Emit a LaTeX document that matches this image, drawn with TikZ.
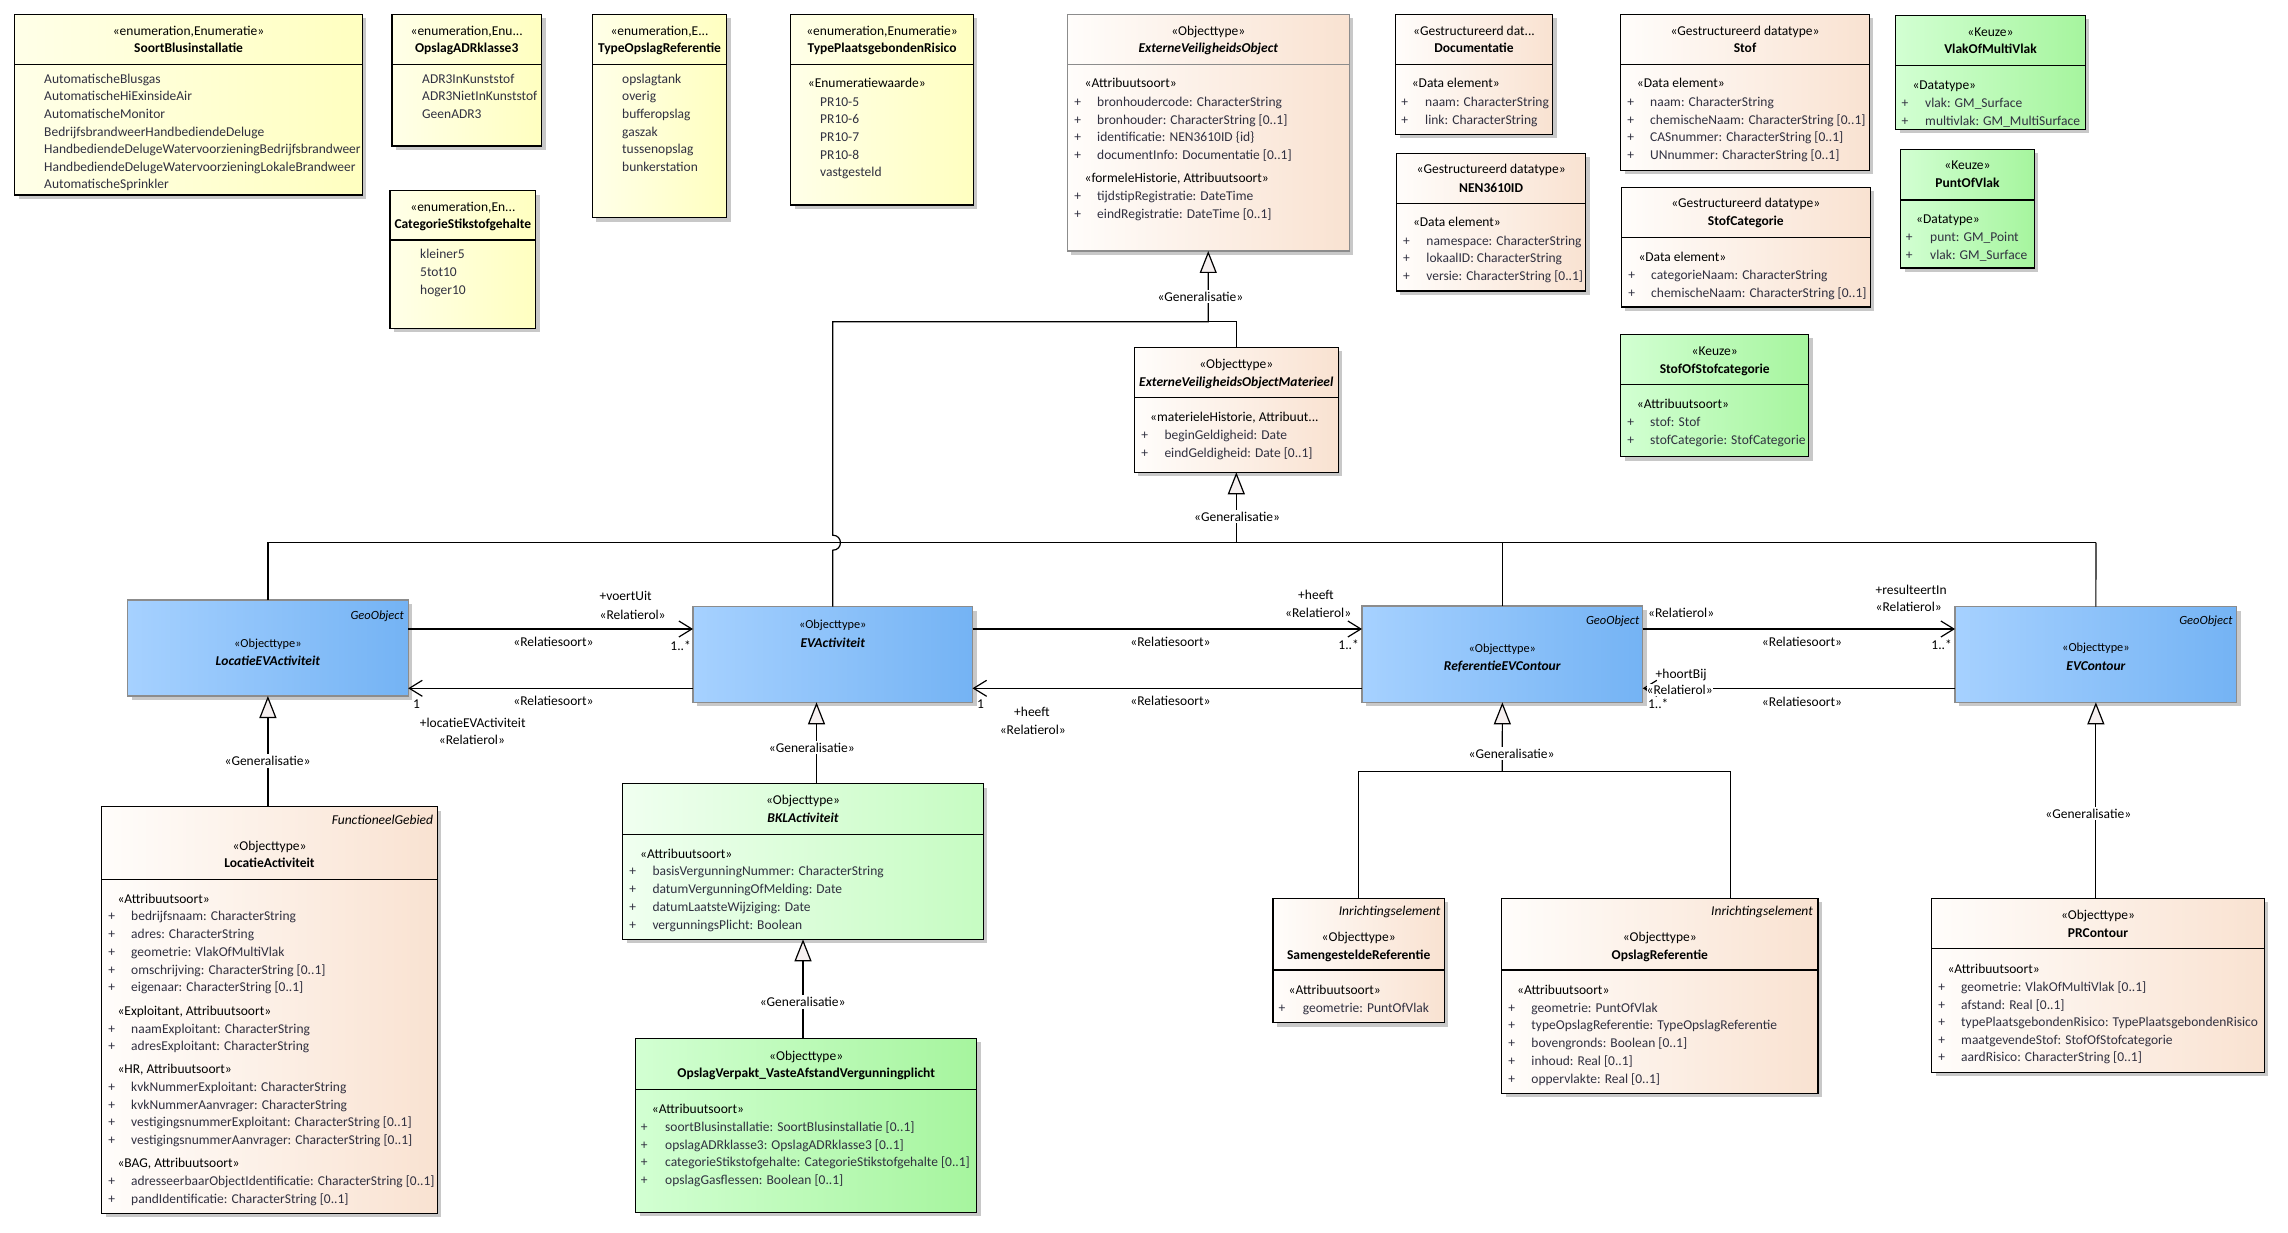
\documentclass[tikz,border=0pt]{standalone}
\usepackage{fontspec}
\setmainfont{Carlito}
\usepackage{graphicx}
\usetikzlibrary{arrows.meta,shadows,fit}

\definecolor{yl}{HTML}{FFFFE8}
\definecolor{yr}{HTML}{FFFFC0}
\definecolor{bl}{HTML}{FFFDFB}
\definecolor{br}{HTML}{F9E2D1}
\definecolor{gl}{HTML}{D2FFD2}
\definecolor{gr}{HTML}{A6F59E}
\definecolor{lgl}{HTML}{F0FFF0}
\definecolor{lgr}{HTML}{C6FCC2}
\definecolor{bul}{HTML}{A6D1FF}
\definecolor{bur}{HTML}{74B3F4}
\definecolor{attc}{HTML}{303040}
\definecolor{shc}{HTML}{C8C8C8}
\definecolor{trif}{HTML}{F6F0F0}

\newcounter{tn}
\newsavebox\sqbox
\newdimen\sqlen
\newcommand\sqz[2]{\sbox\sqbox{#2}\sqlen=\wd\sqbox\relax\ifdim\sqlen>#1\relax\edef\sqf{\fpeval{(#1)/\sqlen}}\scalebox{\sqf}[1]{\usebox\sqbox}\else\usebox\sqbox\fi}
\newcommand\fn{\fontsize{13.5}{16}\selectfont}
\newcommand\fs{\fontsize{12.3}{14}\selectfont}
\newcommand\fgeo{\fontsize{12.5}{15}\selectfont\itshape}

% box: name, style, x1, y1, x2, y2, sep y, sep colour
\newcommand\bx[8]{\node[#2, fit={(#3,#4)(#5,#6)}] (#1) {};
  \draw[line width=1.1pt,#8] (#3,#7) -- (#5,#7);}
% header text: cx, y, font, text, max width
\newcommand\hd[5]{\stepcounter{tn}\node[hdtxt,font=#3] (h\arabic{tn}) at (#1,#2) {\sqz{#5pt}{#4}};}
% group title: x, y, text
\newcommand\grp[3]{\stepcounter{tn}\node[lt] (g\arabic{tn}) at (#1,#2) {#3};}
% literal: x, y, text, right edge
\newcommand\lit[4]{\stepcounter{tn}\node[lt,text=attc] (l\arabic{tn}) at (#1,#2) {\sqz{\fpeval{#4-#1-2}pt}{#3}};}
% attribute: plus x, text x, y, text, right edge
\newcommand\att[5]{\stepcounter{tn}\node[pl] (p\arabic{tn}) at (#1,#3) {+};
  \node[lt,text=attc] (a\arabic{tn}) at (#2,#3) {\sqz{\fpeval{#5-#2-3}pt}{#4}};}
% label: [opts] x, y, text
\newcommand\lab[4][]{\stepcounter{tn}\node[lt,#1] (c\arabic{tn}) at (#2,#3) {#4};}

\begin{document}
\begin{tikzpicture}[x=1pt,y=-1pt,
  every node/.style={font=\fn},
  box/.style={draw=black, line width=1.1pt, inner sep=0, outer sep=0,
    drop shadow={shadow xshift=4pt,shadow yshift=-4pt,fill=shc,opacity=1}},
  ybox/.style={box, left color=yl, right color=yr},
  bbox/.style={box, left color=bl, right color=br},
  gbox/.style={box, left color=gl, right color=gr},
  lgbox/.style={box, left color=lgl, right color=lgr},
  blbox/.style={box, draw=black!45, left color=bul, right color=bur},
  hdtxt/.style={anchor=base, yshift=-4.7pt, inner sep=0},
  lt/.style={anchor=base west, yshift=-4.7pt, inner sep=0},
  pl/.style={anchor=base, yshift=-4.7pt, inner sep=0, text=attc},
  conn/.style={line width=1.2pt},
  assoc/.style={line width=1.2pt, -{Straight Barb[length=13pt,width=16pt]}},
  gen/.style={line width=1.2pt, -{Triangle[length=22pt,width=17pt,fill=trif]}},
  genl/.style={anchor=base, fill=white, inner xsep=1pt, inner ysep=2pt},
]
\useasboundingbox[fill=white] (0,0) rectangle (2288,1233);

% ---------------- enumerations ----------------
\bx{sbi}{ybox}{14.5}{14.3}{362.4}{195}{64.3}{black}
\hd{188.5}{30.7}{\fn}{«enumeration,Enumeratie»}{340}
\hd{188.5}{48.3}{\fn\bfseries}{SoortBlusinstallatie}{340}
\lit{44}{78.7}{AutomatischeBlusgas}{362.4}
\lit{44}{96.3}{AutomatischeHiExinsideAir}{362.4}
\lit{44}{113.9}{AutomatischeMonitor}{362.4}
\lit{44}{131.5}{BedrijfsbrandweerHandbediendeDeluge}{362.4}
\lit{44}{149.1}{HandbediendeDelugeWatervoorzieningBedrijfsbrandweer}{362.4}
\lit{44}{166.7}{HandbediendeDelugeWatervoorzieningLokaleBrandweer}{362.4}
\lit{44}{184.3}{AutomatischeSprinkler}{362.4}

\bx{adr}{ybox}{392}{14.3}{541.5}{146}{64.3}{black}
\hd{466.7}{30.7}{\fn}{«enumeration,Enu...}{145}
\hd{466.7}{48.3}{\fn\bfseries}{OpslagADRklasse3}{145}
\lit{422}{78.7}{ADR3InKunststof}{541.5}
\lit{422}{96.3}{ADR3NietInKunststof}{541.5}
\lit{422}{113.9}{GeenADR3}{541.5}

\bx{cat}{ybox}{390}{190.7}{535.8}{328.3}{240}{black}
\hd{462.9}{206.7}{\fn}{«enumeration,En...}{142}
\hd{462.9}{224.3}{\fn\bfseries}{CategorieStikstofgehalte}{142}
\lit{420}{254.3}{kleiner5}{535.8}
\lit{420}{271.9}{5tot10}{535.8}
\lit{420}{289.5}{hoger10}{535.8}

\bx{tor}{ybox}{592.3}{14.3}{726.7}{217.7}{64.3}{black}
\hd{659.5}{30.7}{\fn}{«enumeration,E...}{130}
\hd{659.5}{48.3}{\fn\bfseries}{TypeOpslagReferentie}{130}
\lit{622}{78.7}{opslagtank}{726.7}
\lit{622}{96.3}{overig}{726.7}
\lit{622}{113.9}{bufferopslag}{726.7}
\lit{622}{131.5}{gaszak}{726.7}
\lit{622}{149.1}{tussenopslag}{726.7}
\lit{622}{166.7}{bunkerstation}{726.7}

\bx{tpr}{ybox}{790.7}{14.3}{973.3}{205}{64.3}{black}
\hd{882}{30.7}{\fn}{«enumeration,Enumeratie»}{178}
\hd{882}{48.3}{\fn\bfseries}{TypePlaatsgebondenRisico}{178}
\grp{807.7}{83.3}{«Enumeratiewaarde»}
\lit{820}{101.7}{PR10-5}{973.3}
\lit{820}{119.3}{PR10-6}{973.3}
\lit{820}{136.9}{PR10-7}{973.3}
\lit{820}{154.5}{PR10-8}{973.3}
\lit{820}{172.1}{vastgesteld}{973.3}

% ---------------- ExterneVeiligheidsObject ----------------
\bx{evo}{bbox,draw=black!45}{1067.2}{14.3}{1349.3}{251}{64.3}{black!45}
\hd{1208.25}{30.7}{\fn}{«Objecttype»}{278}
\hd{1208.25}{48.3}{\fn\bfseries\itshape}{ExterneVeiligheidsObject}{278}
\grp{1084.4}{83.3}{«Attribuutsoort»}
\att{1077.6}{1097}{101.7}{bronhoudercode: CharacterString}{1349.3}
\att{1077.6}{1097}{119.4}{bronhouder: CharacterString [0..1]}{1349.3}
\att{1077.6}{1097}{137.1}{identificatie: NEN3610ID \{id\}}{1349.3}
\att{1077.6}{1097}{154.8}{documentInfo: Documentatie [0..1]}{1349.3}
\grp{1084.4}{177.7}{«formeleHistorie, Attribuutsoort»}
\att{1077.6}{1097}{195.7}{tijdstipRegistratie: DateTime}{1349.3}
\att{1077.6}{1097}{213.4}{eindRegistratie: DateTime [0..1]}{1349.3}

% ---------------- datatypes ----------------
\bx{doc}{bbox}{1395.6}{14.3}{1552.5}{134.3}{64.3}{black}
\hd{1474}{30.7}{\fn}{«Gestructureerd dat...}{152}
\hd{1474}{48.3}{\fn\bfseries}{Documentatie}{152}
\grp{1411.6}{83.3}{«Data element»}
\att{1404.8}{1425}{101.7}{naam: CharacterString}{1552.5}
\att{1404.8}{1425}{119.4}{link: CharacterString}{1552.5}

\bx{nen}{bbox}{1396.4}{153.3}{1585.8}{291}{203.3}{black}
\hd{1491.1}{169.3}{\fn}{«Gestructureerd datatype»}{185}
\hd{1491.1}{187.7}{\fn\bfseries}{NEN3610ID}{185}
\grp{1412.8}{222.3}{«Data element»}
\att{1406.5}{1426.2}{240.7}{namespace: CharacterString}{1585.8}
\att{1406.5}{1426.2}{258.3}{lokaalID: CharacterString}{1585.8}
\att{1406.5}{1426.2}{275.9}{versie: CharacterString [0..1]}{1585.8}

\bx{stof}{bbox}{1620.7}{14.3}{1869.3}{170.3}{64.3}{black}
\hd{1745}{30.7}{\fn}{«Gestructureerd datatype»}{244}
\hd{1745}{48.3}{\fn\bfseries}{Stof}{244}
\grp{1636.7}{83.3}{«Data element»}
\att{1630.7}{1650}{101.7}{naam: CharacterString}{1869.3}
\att{1630.7}{1650}{119.4}{chemischeNaam: CharacterString [0..1]}{1869.3}
\att{1630.7}{1650}{137.1}{CASnummer: CharacterString [0..1]}{1869.3}
\att{1630.7}{1650}{154.8}{UNnummer: CharacterString [0..1]}{1869.3}

\bx{stc}{bbox}{1621.3}{187.3}{1870.3}{307}{237.3}{black}
\hd{1745.8}{203.3}{\fn}{«Gestructureerd datatype»}{244}
\hd{1745.8}{221.3}{\fn\bfseries}{StofCategorie}{244}
\grp{1638.3}{256.7}{«Data element»}
\att{1631.7}{1651}{275}{categorieNaam: CharacterString}{1870.3}
\att{1631.7}{1651}{292.7}{chemischeNaam: CharacterString [0..1]}{1870.3}

\bx{vmv}{gbox}{1895.7}{15.3}{2085.3}{129.3}{65.7}{black}
\hd{1990.5}{31.7}{\fn}{«Keuze»}{185}
\hd{1990.5}{49.3}{\fn\bfseries}{VlakOfMultiVlak}{185}
\grp{1912.3}{84.7}{«Datatype»}
\att{1905}{1925}{102.7}{vlak: GM\_Surface}{2085.3}
\att{1905}{1925}{120.4}{multivlak: GM\_MultiSurface}{2085.3}

\bx{pov}{gbox}{1900.7}{149.3}{2034.3}{268}{200}{black}
\hd{1967.5}{165.3}{\fn}{«Keuze»}{130}
\hd{1967.5}{183.3}{\fn\bfseries}{PuntOfVlak}{130}
\grp{1916}{218.7}{«Datatype»}
\att{1909.3}{1930}{237}{punt: GM\_Point}{2034.3}
\att{1909.3}{1930}{254.7}{vlak: GM\_Surface}{2034.3}

\bx{sos}{gbox}{1620.7}{334.3}{1808.7}{456.5}{384.7}{black}
\hd{1714.7}{351}{\fn}{«Keuze»}{184}
\hd{1714.7}{368.6}{\fn\bfseries}{StofOfStofcategorie}{184}
\grp{1636.7}{404}{«Attribuutsoort»}
\att{1630.7}{1650}{422}{stof: Stof}{1808.7}
\att{1630.7}{1650}{439.7}{stofCategorie: StofCategorie}{1808.7}

% ---------------- ExterneVeiligheidsObjectMaterieel ----------------
\bx{evom}{bbox}{1134.3}{347.3}{1338.3}{472.3}{397.7}{black}
\hd{1236.3}{363.3}{\fn}{«Objecttype»}{200}
\hd{1236.3}{381.7}{\fn\bfseries\itshape}{ExterneVeiligheidsObjectMaterieel}{198}
\grp{1150}{416.7}{\sqz{184pt}{«materieleHistorie, Attribuut...}}
\att{1144.7}{1164.3}{434.7}{beginGeldigheid: Date}{1338.3}
\att{1144.7}{1164.3}{452.4}{eindGeldigheid: Date [0..1]}{1338.3}

% ---------------- blue GeoObjects ----------------
\node[blbox, fit={(127.6,600)(408.2,696)}] (locev) {};
\node[anchor=base east, yshift=-4.7pt, inner sep=0, font=\fgeo] (locevg) at (404,615) {GeoObject};
\hd{267.9}{642.3}{\fs}{«Objecttype»}{270}
\hd{267.9}{661}{\fn\bfseries\itshape}{LocatieEVActiviteit}{270}

\node[blbox, fit={(693,606.7)(972.5,702.3)}] (evact) {};
\hd{832.75}{624}{\fs}{«Objecttype»}{270}
\hd{832.75}{643}{\fn\bfseries\itshape}{EVActiviteit}{270}

\node[blbox, fit={(1362,606)(1642.7,702.3)}] (refev) {};
\node[anchor=base east, yshift=-4.7pt, inner sep=0, font=\fgeo] (refevg) at (1639.5,620) {GeoObject};
\hd{1502.3}{647.3}{\fs}{«Objecttype»}{270}
\hd{1502.3}{666}{\fn\bfseries\itshape}{ReferentieEVContour}{270}

\node[blbox, fit={(1955,606.7)(2236.7,702.3)}] (evc) {};
\node[anchor=base east, yshift=-4.7pt, inner sep=0, font=\fgeo] (evcg) at (2232.7,619.3) {GeoObject};
\hd{2095.9}{646.7}{\fs}{«Objecttype»}{270}
\hd{2095.9}{665.7}{\fn\bfseries\itshape}{EVContour}{270}

% ---------------- LocatieActiviteit ----------------
\bx{locact}{bbox}{101.7}{806.7}{437.3}{1213.3}{879.3}{black}
\node[anchor=base east, yshift=-4.7pt, inner sep=0, font=\fn\itshape] (locactg) at (433.3,819.3) {FunctioneelGebied};
\hd{269.5}{845.7}{\fn}{«Objecttype»}{330}
\hd{269.5}{862.3}{\fn\bfseries}{LocatieActiviteit}{330}
\grp{117.3}{898.3}{«Attribuutsoort»}
\att{111.7}{131}{915.3}{bedrijfsnaam: CharacterString}{437.3}
\att{111.7}{131}{933.3}{adres: CharacterString}{437.3}
\att{111.7}{131}{951.3}{geometrie: VlakOfMultiVlak}{437.3}
\att{111.7}{131}{969.3}{omschrijving: CharacterString [0..1]}{437.3}
\att{111.7}{131}{986.7}{eigenaar: CharacterString [0..1]}{437.3}
\grp{117.3}{1010.7}{«Exploitant, Attribuutsoort»}
\att{111.7}{131}{1028.4}{naamExploitant: CharacterString}{437.3}
\att{111.7}{131}{1046}{adresExploitant: CharacterString}{437.3}
\grp{117.3}{1068.3}{«HR, Attribuutsoort»}
\att{111.7}{131}{1086.7}{kvkNummerExploitant: CharacterString}{437.3}
\att{111.7}{131}{1104.4}{kvkNummerAanvrager: CharacterString}{437.3}
\att{111.7}{131}{1122.2}{vestigingsnummerExploitant: CharacterString [0..1]}{437.3}
\att{111.7}{131}{1140}{vestigingsnummerAanvrager: CharacterString [0..1]}{437.3}
\grp{117.3}{1162.3}{«BAG, Attribuutsoort»}
\att{111.7}{131}{1180.3}{adresseerbaarObjectIdentificatie: CharacterString [0..1]}{437.3}
\att{111.7}{131}{1198.3}{pandIdentificatie: CharacterString [0..1]}{437.3}

% ---------------- BKLActiviteit ----------------
\bx{bkl}{lgbox}{622.7}{783.5}{983.3}{939.3}{834.3}{black}
\hd{803}{799.3}{\fn}{«Objecttype»}{355}
\hd{803}{817.3}{\fn\bfseries\itshape}{BKLActiviteit}{355}
\grp{640}{853.3}{«Attribuutsoort»}
\att{632.7}{652.3}{870.3}{basisVergunningNummer: CharacterString}{983.3}
\att{632.7}{652.3}{888.3}{datumVergunningOfMelding: Date}{983.3}
\att{632.7}{652.3}{906.3}{datumLaatsteWijziging: Date}{983.3}
\att{632.7}{652.3}{924.3}{vergunningsPlicht: Boolean}{983.3}

% ---------------- OpslagVerpakt ----------------
\bx{ovp}{gbox}{635.7}{1038.3}{976.7}{1212.3}{1089.3}{black}
\hd{806.2}{1055.7}{\fn}{«Objecttype»}{336}
\hd{806.2}{1072.7}{\fn\bfseries}{OpslagVerpakt\_VasteAfstandVergunningplicht}{336}
\grp{651.7}{1109}{«Attribuutsoort»}
\att{644.3}{665}{1126.7}{soortBlusinstallatie: SoortBlusinstallatie [0..1]}{976.7}
\att{644.3}{665}{1144.3}{opslagADRklasse3: OpslagADRklasse3 [0..1]}{976.7}
\att{644.3}{665}{1161.9}{categorieStikstofgehalte: CategorieStikstofgehalte [0..1]}{976.7}
\att{644.3}{665}{1179.5}{opslagGasflessen: Boolean [0..1]}{976.7}

% ---------------- Samengestelde / Opslag referentie ----------------
\bx{sgr}{bbox}{1273}{898.3}{1444.3}{1022.7}{970}{black}
\node[anchor=base east, yshift=-4.7pt, inner sep=0, font=\fn\itshape] (sgrg) at (1440.6,910.7) {Inrichtingselement};
\hd{1358.7}{936.7}{\fn}{«Objecttype»}{167}
\hd{1358.7}{954.3}{\fn\bfseries}{SamengesteldeReferentie}{167}
\grp{1288.5}{989.3}{«Attribuutsoort»}
\att{1282}{1302.6}{1007.3}{geometrie: PuntOfVlak}{1444.3}

\bx{opr}{bbox}{1501.6}{898.3}{1818}{1093.3}{970}{black}
\node[anchor=base east, yshift=-4.7pt, inner sep=0, font=\fn\itshape] (oprg) at (1813,910.7) {Inrichtingselement};
\hd{1659.8}{936.7}{\fn}{«Objecttype»}{310}
\hd{1659.8}{954.3}{\fn\bfseries}{OpslagReferentie}{310}
\grp{1517}{989.3}{«Attribuutsoort»}
\att{1511.6}{1531.2}{1007.3}{geometrie: PuntOfVlak}{1818}
\att{1511.6}{1531.2}{1025.1}{typeOpslagReferentie: TypeOpslagReferentie}{1818}
\att{1511.6}{1531.2}{1042.9}{bovengronds: Boolean [0..1]}{1818}
\att{1511.6}{1531.2}{1060.7}{inhoud: Real [0..1]}{1818}
\att{1511.6}{1531.2}{1078.4}{oppervlakte: Real [0..1]}{1818}

% ---------------- PRContour ----------------
\bx{prc}{bbox}{1931.7}{898.3}{2264.3}{1072.3}{948.3}{black}
\hd{2098}{915}{\fn}{«Objecttype»}{328}
\hd{2098}{932.7}{\fn\bfseries}{PRContour}{328}
\grp{1947.3}{968.3}{«Attribuutsoort»}
\att{1941.7}{1961}{986.7}{geometrie: VlakOfMultiVlak [0..1]}{2264.3}
\att{1941.7}{1961}{1004.3}{afstand: Real [0..1]}{2264.3}
\att{1941.7}{1961}{1021.9}{typePlaatsgebondenRisico: TypePlaatsgebondenRisico}{2264.3}
\att{1941.7}{1961}{1039.5}{maatgevendeStof: StofOfStofcategorie}{2264.3}
\att{1941.7}{1961}{1057.1}{aardRisico: CharacterString [0..1]}{2264.3}

% ================= connectors =================
% generalisations to ExterneVeiligheidsObject
\coordinate (evoj) at (1208.25,321.7);
\draw[conn] (evom.north) |- (evoj);
\draw[gen] (evact.north) -- (832.75,550.2) .. controls (843,550.2) and (843,535.2) .. (832.75,535.2) |- (evoj) -- (evo.south);

% generalisations to ExterneVeiligheidsObjectMaterieel
\coordinate (bus) at (2095.9,542.7);
\draw[conn] (locev.north) |- (bus);
\draw[conn] (evc.north) -- (bus);
\draw[conn] (refev.north) -- (refev.north |- bus);
\draw[gen] (evom.south |- bus) -- (evom.south);

% other generalisations
\draw[gen] (locact.north -| locev.south) -- (locev.south);
\coordinate (bklx) at (816.5,0);
\draw[gen] (bkl.north -| bklx) -- (evact.south -| bklx);
\draw[gen] (ovp.north -| bkl.south) -- (bkl.south);
\coordinate (rbus) at (1502.3,771.7);
\coordinate (oprx) at (1730.6,0);
\draw[conn] (sgr.north) |- (rbus);
\draw[conn] (opr.north -| oprx) |- (rbus);
\draw[gen] (rbus) -- (refev.south);
\draw[gen] (prc.north -| evc.south) -- (evc.south);

% associations
\coordinate (ya) at (0,629);
\coordinate (yb) at (0,688.3);
\draw[assoc] (locev.east |- ya) -- (evact.west |- ya);
\draw[assoc] (evact.west |- yb) -- (locev.east |- yb);
\draw[assoc] (evact.east |- ya) -- (refev.west |- ya);
\draw[assoc] (refev.west |- yb) -- (evact.east |- yb);
\draw[assoc] (refev.east |- ya) -- (evc.west |- ya);
\draw[assoc] (evc.west |- yb) -- (refev.east |- yb);

% generalisation labels
\lab[genl]{1200.4}{296.7}{«Generalisatie»}
\lab[genl]{1237}{516.5}{«Generalisatie»}
\lab[genl]{267.5}{760.7}{«Generalisatie»}
\lab[genl]{811.8}{747.3}{«Generalisatie»}
\lab[genl]{802.7}{1001.7}{«Generalisatie»}
\lab[genl]{1511.6}{753.3}{«Generalisatie»}
\lab[genl]{2088.3}{813.3}{«Generalisatie»}

% association labels: LocatieEVActiviteit - EVActiviteit
\lab{599.4}{596}{+voertUit}
\lab{599.4}{614.3}{«Relatierol»}
\lab[anchor=base]{553.5}{642}{«Relatiesoort»}
\lab[anchor=base east]{691}{646}{1..*}
\lab[anchor=base]{553.5}{701}{«Relatiesoort»}
\lab{413}{704}{1}
\lab{419.7}{722.3}{+locatieEVActiviteit}
\lab{438.7}{740}{«Relatierol»}

% EVActiviteit - ReferentieEVContour
\lab{1298}{594.3}{+heeft}
\lab{1285}{612.3}{«Relatierol»}
\lab[anchor=base]{1170.5}{641.7}{«Relatiesoort»}
\lab[anchor=base east]{1359}{645}{1..*}
\lab[anchor=base]{1170.5}{701}{«Relatiesoort»}
\lab{977}{704}{1}
\lab{1014}{712}{+heeft}
\lab{999.6}{730}{«Relatierol»}

% ReferentieEVContour - EVContour
\lab{1648}{612.3}{«Relatierol»}
\lab{1875.5}{589.3}{+resulteertIn}
\lab{1875.5}{607}{«Relatierol»}
\lab[anchor=base]{1802}{641.7}{«Relatiesoort»}
\lab[anchor=base east]{1952}{645}{1..*}
\lab{1655.5}{674}{+hoortBij}
\lab[fill=white,inner xsep=0pt,inner ysep=1.5pt]{1646.5}{690}{«Relatierol»}
\lab{1647.8}{704}{1..*}
\lab[anchor=base]{1802}{701.7}{«Relatiesoort»}

\end{tikzpicture}
\end{document}
